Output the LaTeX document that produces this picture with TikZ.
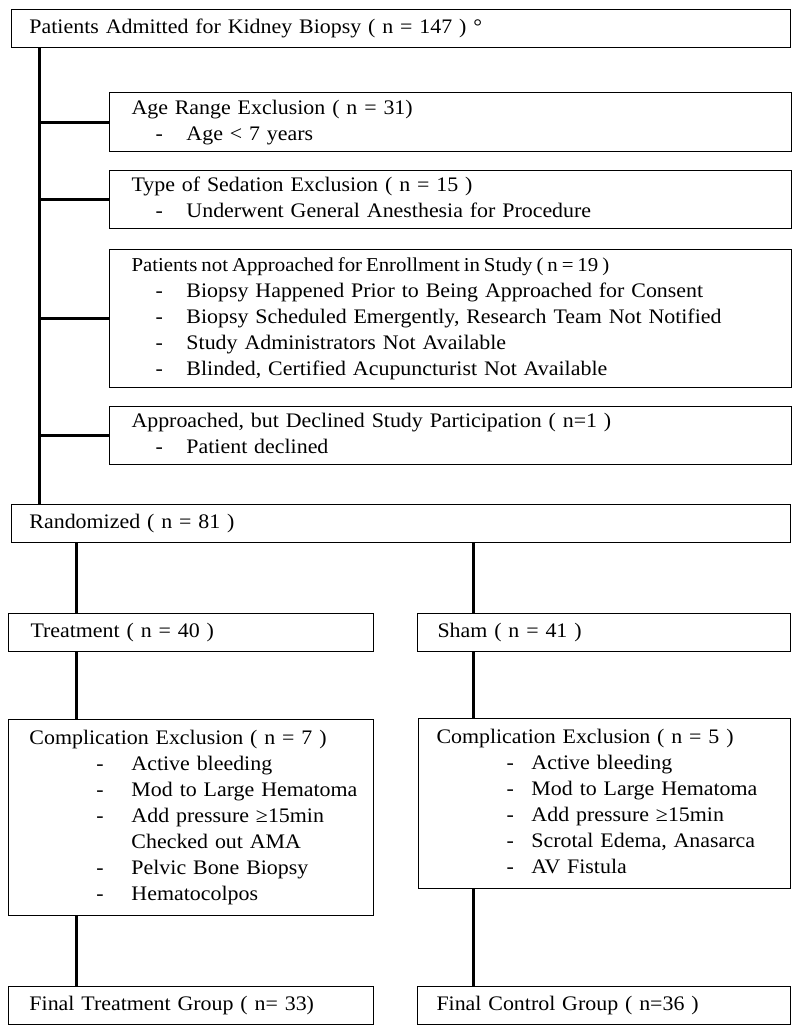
\documentclass[tikz,border=0pt]{standalone}
\usepackage{fontspec}
\setmainfont{Liberation Serif}[FakeStretch=1.06]

\tikzset{
  flowbox/.style={draw, line width=0.6pt, anchor=north west, align=left,
    inner ysep=0pt, font=\fontsize{12.4}{15.6}\selectfont,
    execute at begin node=\strut, execute at end node=\strut},
  link/.style={line width=1.8pt},
}
\newcommand{\exitem}[1]{\hspace*{14.4pt}\makebox[18.6pt][l]{-}\mbox{#1}}
\newcommand{\trtitem}[2][-]{\hspace*{40.2pt}\makebox[21pt][l]{#1}\mbox{#2}}
\newcommand{\shamitem}[1]{\hspace*{42pt}\makebox[15pt][l]{-}\mbox{#1}}

\begin{document}
\begin{tikzpicture}[x=0.6pt, y=-0.6pt]
        \useasboundingbox (0,0) rectangle (800,1030);

        % Admitted
        \node[flowbox, minimum width=467.4pt, minimum height=22.8pt, inner xsep=10.8pt, text width=445.8pt]
            (admit) at (11,9) {Patients Admitted for Kidney Biopsy ( n = 147 ) °};

        % Exclusions before randomization
        \node[flowbox, minimum width=409.2pt, minimum height=35.4pt, inner xsep=13.2pt, text width=382.8pt]
            (age) at (109,92) {Age Range Exclusion ( n = 31)\\
            \exitem{Age < 7 years}};
        \node[flowbox, minimum width=409.2pt, minimum height=34.8pt, inner xsep=13.2pt, text width=382.8pt]
            (sedation) at (109,170) {Type of Sedation Exclusion ( n = 15 )\\
            \exitem{Underwent General Anesthesia for Procedure}};
        \node[flowbox, minimum width=409.2pt, minimum height=82.8pt, inner xsep=13.2pt, text width=382.8pt]
            (notapproached) at (109,249) {{\fontsize{11.8}{15.6}\selectfont\spaceskip=0.2em
            Patients not Approached for Enrollment in Study ( n = 19 )}\\
            \exitem{Biopsy Happened Prior to Being Approached for Consent}\\
            \exitem{Biopsy Scheduled Emergently, Research Team Not Notified}\\
            \exitem{Study Administrators Not Available}\\
            \exitem{Blinded, Certified Acupuncturist Not Available}};
        \node[flowbox, minimum width=409.2pt, minimum height=34.8pt, inner xsep=13.2pt, text width=382.8pt]
            (declined) at (109,406) {Approached, but Declined Study Participation ( n=1 )\\
            \exitem{Patient declined}};

        % Randomized
        \node[flowbox, minimum width=467.4pt, minimum height=22.8pt, inner xsep=10.8pt, text width=445.8pt]
            (random) at (11,504) {Randomized ( n = 81 )};

        % Arms
        \node[flowbox, minimum width=219pt, minimum height=22.8pt, inner xsep=13.2pt, text width=192.6pt]
            (treat) at (8,613) {Treatment ( n = 40 )};
        \node[flowbox, minimum width=223.8pt, minimum height=22.8pt, inner xsep=12pt, text width=199.8pt]
            (sham) at (417,613) {Sham ( n = 41 )};

        % Complications
        \node[flowbox, minimum width=219pt, minimum height=117.6pt, inner xsep=12.6pt, text width=193.8pt]
            (comptreat) at (8,719) {Complication Exclusion ( n = 7 )\\
            \trtitem{Active bleeding}\\
            \trtitem{Mod to Large Hematoma}\\
            \trtitem{Add pressure ≥15min}\\
            \trtitem[]{Checked out AMA}\\
            \trtitem{Pelvic Bone Biopsy}\\
            \trtitem{Hematocolpos}};
        \node[flowbox, minimum width=223.2pt, minimum height=102pt, inner xsep=10.8pt, text width=201.6pt]
            (compsham) at (418,718) {Complication Exclusion ( n = 5 )\\
            \shamitem{Active bleeding}\\
            \shamitem{Mod to Large Hematoma}\\
            \shamitem{Add pressure ≥15min}\\
            \shamitem{Scrotal Edema, Anasarca}\\
            \shamitem{AV Fistula}};

        % Final groups
        \node[flowbox, minimum width=219pt, minimum height=22.8pt, inner xsep=12.6pt, text width=193.8pt]
            (finaltreat) at (8,986) {Final Treatment Group ( n= 33)};
        \node[flowbox, minimum width=223.8pt, minimum height=22.8pt, inner xsep=11.4pt, text width=201pt]
            (finalcontrol) at (417,986) {Final Control Group ( n=36 )};

        % Connectors
        \coordinate (spine) at (39,0);
        \coordinate (leftarm) at (76,0);
        \coordinate (rightarm) at (473,0);
        \draw[link] (admit.south -| spine) -- (random.north -| spine);
        \foreach \excl in {age, sedation, notapproached, declined}
            \draw[link] (\excl.west -| spine) -- (\excl.west);
        \draw[link] (random.south -| leftarm) -- (treat.north -| leftarm);
        \draw[link] (random.south -| rightarm) -- (sham.north -| rightarm);
        \draw[link] (treat.south -| leftarm) -- (comptreat.north -| leftarm);
        \draw[link] (sham.south -| rightarm) -- (compsham.north -| rightarm);
        \draw[link] (comptreat.south -| leftarm) -- (finaltreat.north -| leftarm);
        \draw[link] (compsham.south -| rightarm) -- (finalcontrol.north -| rightarm);
\end{tikzpicture}
\end{document}
